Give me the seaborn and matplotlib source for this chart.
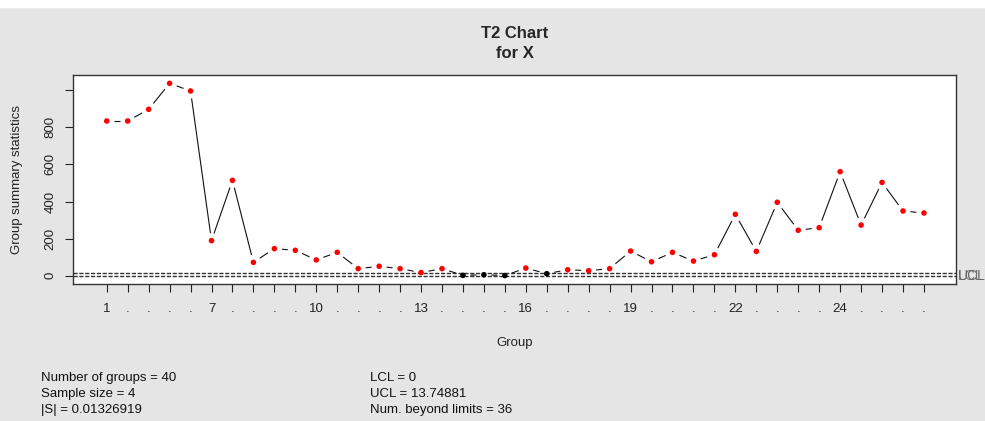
import numpy as np
import pandas as pd
import seaborn as sns
import matplotlib.pyplot as plt
from matplotlib.collections import LineCollection
from matplotlib.patches import Rectangle

# T2 statistic per group
groups = list(range(1, 41))
t2_stat = [834, 834, 897, 1037, 996, 189, 514, 72, 146, 137,
           85, 126, 38, 51, 38, 17, 38, 2, 5, 1,
           41, 11, 32, 27, 38, 133, 75, 126, 79, 113,
           331, 131, 396, 245, 259, 561, 273, 503, 349, 338]
tick_labels = ["1", ".", ".", ".", ".", "7", ".", ".", ".", ".",
               "10", ".", ".", ".", ".", "13", ".", ".", ".", ".",
               "16", ".", ".", ".", ".", "19", ".", ".", ".", ".",
               "22", ".", ".", ".", ".", "24", ".", ".", ".", "."]
y_ticks = [0, 200, 400, 600, 800, 1000]
y_tick_labels = ["0", "200", "400", "600", "800", ""]
LCL = 0.0
UCL = 13.74881

df = pd.DataFrame({"group": groups, "stat": t2_stat})
df["status"] = np.where((df["stat"] > UCL) | (df["stat"] < LCL), "out", "in")

sns.set_theme(style="white")
plt.rcParams["font.family"] = ["Liberation Sans", "DejaVu Sans"]

W, H = 985, 421
fig = plt.figure(figsize=(W / 100, H / 100), dpi=100, facecolor="#E5E5E5")
fig.patches.append(Rectangle((0, 1 - 7 / H), 1, 7 / H, transform=fig.transFigure,
                             color="white", zorder=0))
ax = fig.add_axes([73 / W, 1 - 284 / H, 883 / W, 209 / H])
ax.set_facecolor("white")
ax.set_xlim(-0.61, 41.53)
ax.set_ylim(-44.7, 1082)

# R style type="b" line: segments trimmed around each point
pts = ax.transData.transform(np.column_stack([df["group"], df["stat"]]))
gap = 7.5
segs = []
for p0, p1 in zip(pts[:-1], pts[1:]):
    d = p1 - p0
    L = np.hypot(*d)
    if L > 2 * gap:
        u = d / L
        a = ax.transData.inverted().transform(p0 + u * gap)
        b = ax.transData.inverted().transform(p1 - u * gap)
        segs.append([a, b])
ax.add_collection(LineCollection(segs, colors="#111111", linewidths=0.8, zorder=2))

ax.axhline(LCL, color="#333333", lw=1, ls=(0, (3, 1.2)), zorder=1)
ax.axhline(UCL, color="#333333", lw=1, ls=(0, (3, 1.2)), zorder=1)

sns.scatterplot(data=df, x="group", y="stat", hue="status",
                palette={"in": "black", "out": "red"}, s=16, linewidth=0,
                legend=False, ax=ax, zorder=3)

ax.set_xticks(groups)
ax.set_xticklabels(tick_labels, fontsize=9.5)
ax.set_yticks(y_ticks)
ax.set_yticklabels(y_tick_labels, rotation=90, va="center", fontsize=9.5)
ax.tick_params(axis="x", direction="out", length=6, width=0.8, pad=8, colors="#222222")
ax.tick_params(axis="y", direction="out", length=6, width=0.8, pad=6, colors="#222222")
ax.tick_params(left=True, bottom=True)
ax.set_xlabel("")
ax.set_ylabel("")
for s in ax.spines.values():
    s.set_color("#333333")
    s.set_linewidth(1)

# limit labels sit almost on top of each other, as in the original
ax.text(1.002, 1.0, "UCL", transform=ax.get_yaxis_transform(), color="#666666",
        fontsize=10, va="center", ha="left")
ax.text(1.002, -0.5, "LCL", transform=ax.get_yaxis_transform(), color="#666666",
        fontsize=10, va="center", ha="left", alpha=0.9)

def ftext(x, y, s, **kw):
    fig.text(x / W, 1 - y / H, s, **kw)

ftext(515, 33.5, "T2 Chart", ha="center", va="center", fontsize=12, fontweight="bold")
ftext(515, 53.5, "for X", ha="center", va="center", fontsize=12, fontweight="bold")
ftext(515, 343, "Group", ha="center", va="center", fontsize=9.5, color="#222222")
ftext(17, 180, "Group summary statistics", ha="center", va="center", rotation=90,
      fontsize=9.5, color="#222222")

left_stats = ["Number of groups = 40", "Sample size = 4", "|S| = 0.01326919"]
right_stats = ["LCL = 0", "UCL = 13.74881", "Num. beyond limits = 36"]
for i, s in enumerate(left_stats):
    ftext(41, 378 + 16 * i, s, ha="left", va="center", fontsize=9.5, color="#111111")
for i, s in enumerate(right_stats):
    ftext(370, 378 + 16 * i, s, ha="left", va="center", fontsize=9.5, color="#111111")

fig.savefig("out.png", dpi=100, facecolor=fig.get_facecolor())
